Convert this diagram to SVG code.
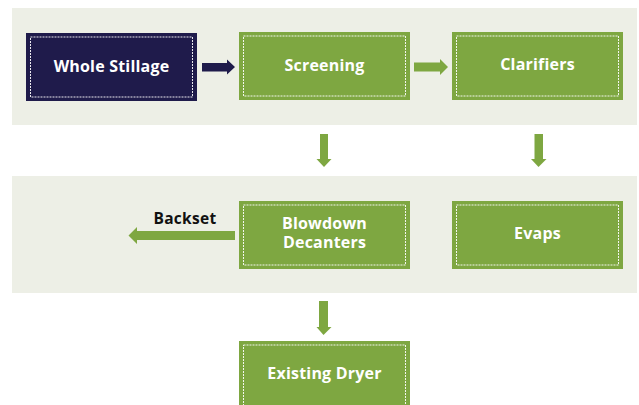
<svg xmlns="http://www.w3.org/2000/svg" width="639" height="405" viewBox="0 0 639 405">
  <style>
    .panel { fill: #EDEFE6; }
    .box { fill: #7EA741; }
    .box.dark { fill: #1F1B4B; }
    .inner { fill: none; stroke: #FFFFFF; stroke-width: 1; stroke-dasharray: 2 1; opacity: 0.9; }
    .label { font-family: "Open Sans", "Liberation Sans", sans-serif; font-weight: 700; font-size: 16px; letter-spacing: 0.2px; fill: #FFFFFF; text-anchor: middle; }
    .side { font-family: "Open Sans", "Liberation Sans", sans-serif; font-weight: 700; font-size: 15.5px; letter-spacing: 0.3px; fill: #111111; text-anchor: middle; }
    .arrow { fill: #7EA741; }
    .arrow.dark { fill: #1F1B4B; }
  </style>

  <!-- background bands -->
  <rect class="panel" x="12" y="8" width="625" height="117"/>
  <rect class="panel" x="12" y="176" width="625" height="117"/>

  <!-- process steps -->
  <g id="whole-stillage">
    <rect class="box dark" x="26" y="33" width="171" height="68"/>
    <rect class="inner" x="30.5" y="37" width="162" height="60"/>
    <text class="label" x="111.5" y="72">Whole Stillage</text>
  </g>
  <g id="screening">
    <rect class="box" x="239" y="32" width="171" height="68"/>
    <rect class="inner" x="243.5" y="36" width="162" height="60"/>
    <text class="label" x="324.5" y="71">Screening</text>
  </g>
  <g id="clarifiers">
    <rect class="box" x="452" y="32" width="171" height="68"/>
    <rect class="inner" x="456.5" y="36" width="162" height="60"/>
    <text class="label" x="537.5" y="70">Clarifiers</text>
  </g>
  <g id="blowdown-decanters">
    <rect class="box" x="239" y="201" width="171" height="68"/>
    <rect class="inner" x="243.5" y="205" width="162" height="60"/>
    <text class="label" x="324.5" y="229">Blowdown</text>
    <text class="label" x="324.5" y="248">Decanters</text>
  </g>
  <g id="evaps">
    <rect class="box" x="452" y="201" width="171" height="68"/>
    <rect class="inner" x="456.5" y="205" width="162" height="60"/>
    <text class="label" x="537.5" y="239">Evaps</text>
  </g>
  <g id="existing-dryer">
    <rect class="box" x="239" y="341" width="171" height="70"/>
    <rect class="inner" x="243.5" y="345" width="162" height="62"/>
    <text class="label" x="324.5" y="379">Existing Dryer</text>
  </g>

  <!-- connectors -->
  <g id="connectors">
    <polygon class="arrow dark" points="202,63 227,63 227,59.5 235,67 227,74.5 227,71.5 202,71.5"/>
    <polygon class="arrow" points="414,62.5 440,62.5 440,59 448,67 440,75 440,71.5 414,71.5"/>
    <polygon class="arrow" points="320,134 328,134 328,159 331.5,159 324,167 316.5,159 320,159"/>
    <polygon class="arrow" points="534.5,134 543,134 543,159 546.5,159 538.5,167 531,159 534.5,159"/>
    <polygon class="arrow" points="235,231 137,231 137,227 128.5,235.5 137,244 137,240 235,240"/>
    <polygon class="arrow" points="319,301 328,301 328,327 331.5,327 323.5,335 316.5,327 319,327"/>
    <text class="side" x="185" y="224">Backset</text>
  </g>
</svg>
